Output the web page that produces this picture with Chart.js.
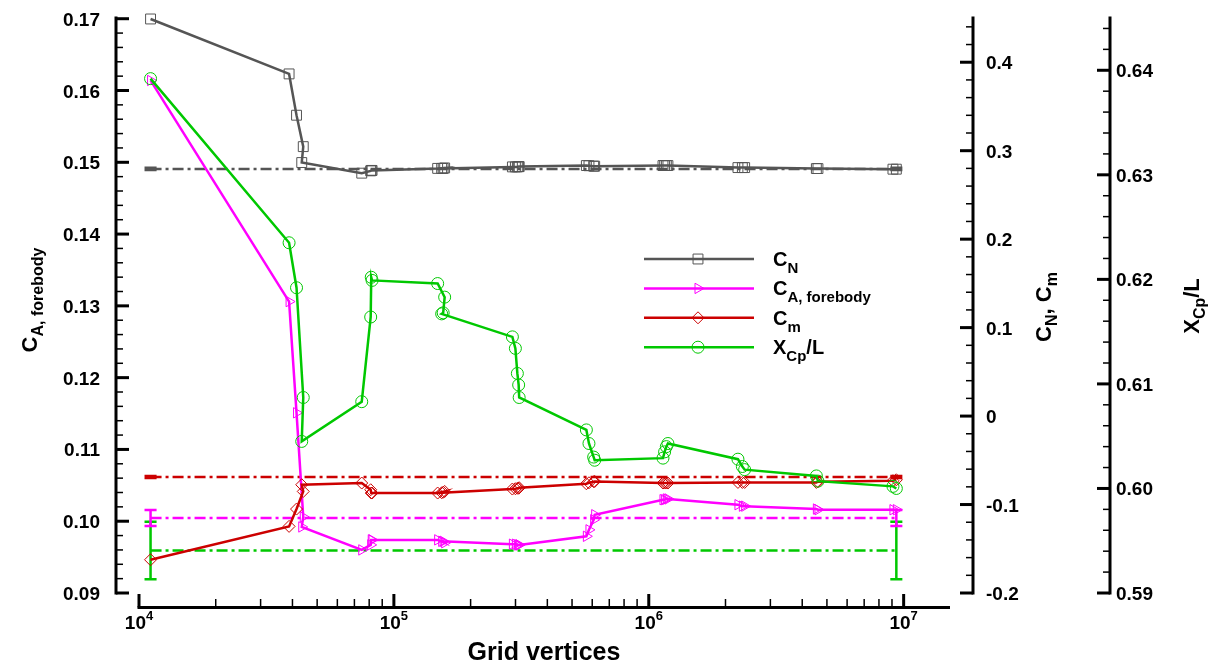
<!DOCTYPE html>
<html>
<head>
<meta charset="utf-8">
<script src="https://cdn.jsdelivr.net/npm/chart.js@4.4.1/dist/chart.umd.min.js"></script>
<style>
  html, body { margin: 0; padding: 0; background: #fff; }
  #wrap { width: 1222px; height: 669px; position: relative; }
</style>
</head>
<body>
<div id="wrap"><canvas id="chart"></canvas></div>
<script>
// grid size of every computed point (vertices), shared by the four curves
const gridVertices = [11100, 38800, 41500, 44100, 43500, 74800, 81100, 81500, 82100,
  148500, 158200, 156100, 154000, 291700, 299700, 305100, 308700, 310100,
  569100, 582600, 607900, 613500, 1137000, 1154000, 1172000, 1189000,
  2238000, 2329000, 2378000, 4545000, 4611000, 9078000, 9361000];

const cN = [0.4489, 0.3868, 0.3401, 0.3046, 0.2866, 0.2746, 0.2772, 0.2777, 0.2777,
  0.2800, 0.2805, 0.2800, 0.2800, 0.2817, 0.2817, 0.2817, 0.2820, 0.2820,
  0.2832, 0.2830, 0.2825, 0.2825, 0.2832, 0.2832, 0.2832, 0.2832,
  0.2809, 0.2809, 0.2809, 0.2798, 0.2798, 0.2791, 0.2791];

const cAForebody = [0.1614, 0.1306, 0.1151, 0.1006, 0.0992, 0.0960, 0.0967, 0.0974, 0.0974,
  0.0974, 0.0970, 0.0972, 0.0972, 0.0968, 0.0968, 0.0967, 0.0967, 0.0967,
  0.0979, 0.0988, 0.1002, 0.1009, 0.1030, 0.1030, 0.1031, 0.1031,
  0.1023, 0.1021, 0.1021, 0.1017, 0.1016, 0.1016, 0.1016];

const cM = [-0.1624, -0.1247, -0.1051, -0.0852, -0.0776, -0.0757, -0.0833, -0.0870, -0.0870,
  -0.0870, -0.0852, -0.0861, -0.0867, -0.0825, -0.0821, -0.0816, -0.0816, -0.0810,
  -0.0765, -0.0754, -0.0742, -0.0739, -0.0757, -0.0757, -0.0757, -0.0757,
  -0.0750, -0.0750, -0.0750, -0.0750, -0.0742, -0.0731, -0.0720];

const xCpL = [0.6392, 0.6235, 0.6192, 0.6087, 0.6045, 0.6083, 0.6164, 0.6202, 0.6199,
  0.6196, 0.6183, 0.6168, 0.6167, 0.6145, 0.6134, 0.6110, 0.6099, 0.6087,
  0.6056, 0.6043, 0.6030, 0.6027, 0.6029, 0.6035, 0.6040, 0.6043,
  0.6028, 0.6021, 0.6018, 0.6012, 0.6007, 0.6002, 0.6000];

// extrapolated (grid converged) values with their error band
const refX = [11100, 9361000];
const refCN = 0.2794, refCNErr = 0.0012;
const refCA = 0.10045, refCAErr = 0.0011;
const refCm = -0.0689, refCmErr = 0.0012;
const refXCp = 0.59407, refXCpErr = 0.00275;

// axis ticks
const xMajorTicks = [1e4, 1e5, 1e6, 1e7];
const xTickExponents = ['4', '5', '6', '7'];
const leftTicks = [0.09, 0.10, 0.11, 0.12, 0.13, 0.14, 0.15, 0.16, 0.17];
const leftTickLabels = ['0.09', '0.10', '0.11', '0.12', '0.13', '0.14', '0.15', '0.16', '0.17'];
const rightTicks = [-0.2, -0.1, 0, 0.1, 0.2, 0.3, 0.4];
const rightTickLabels = ['-0.2', '-0.1', '0', '0.1', '0.2', '0.3', '0.4'];
const xcpTicks = [0.59, 0.60, 0.61, 0.62, 0.63, 0.64];
const xcpTickLabels = ['0.59', '0.60', '0.61', '0.62', '0.63', '0.64'];

const FONT = '"Liberation Sans", Arial, Helvetica, sans-serif';
const GRAY = '#555555', MAGENTA = '#ff00ff', RED = '#cc0000', GREEN = '#00c800';
const capRatio = 1.056; // half width of error bar caps on the log axis

function pts(values) {
  return gridVertices.map((x, i) => ({ x, y: values[i] }));
}
function refLine(v) {
  return refX.map(x => ({ x, y: v }));
}
function errBars(center, half) {
  const out = [];
  refX.forEach(x => {
    const lo = center - half, hi = center + half;
    const xl = x / capRatio, xr = x * capRatio;
    out.push({ x: xl, y: hi }, { x: xr, y: hi }, { x: xr, y: null },
      { x, y: hi }, { x, y: lo }, { x, y: null },
      { x: xl, y: lo }, { x: xr, y: lo }, { x: xr, y: null });
  });
  return out;
}

function refSet(data, color, axis) {
  return { data, yAxisID: axis, borderColor: color, borderWidth: 2.5,
    borderDash: [11, 4, 3, 4], pointRadius: 0, order: 10, clip: false };
}
function barSet(data, color, axis) {
  return { data, yAxisID: axis, borderColor: color, borderWidth: 2.5,
    pointRadius: 0, spanGaps: false, order: 9, clip: false };
}
function curveSet(label, data, color, axis, style, radius, rot, order) {
  return { label, data, yAxisID: axis, borderColor: color, borderWidth: 2.5,
    pointStyle: style, pointRadius: radius, pointRotation: rot || 0,
    pointBorderWidth: 1, pointBorderColor: color, pointBackgroundColor: 'rgba(0,0,0,0)',
    order, clip: false };
}

const legendItems = [
  { color: GRAY, style: 'rect', radius: 7, rot: 0, text: [['C', 20, 0], ['N', 15, 7]] },
  { color: MAGENTA, style: 'triangle', radius: 6, rot: 90, text: [['C', 20, 0], ['A, forebody', 15, 7]] },
  { color: RED, style: 'rectRot', radius: 6, rot: 0, text: [['C', 20, 0], ['m', 15, 7]] },
  { color: GREEN, style: 'circle', radius: 6, rot: 0, text: [['X', 20, 0], ['Cp', 15, 7], ['/L', 20, 0]] }
];

function drawRich(ctx, x, y, parts, align) {
  let w = 0;
  parts.forEach(p => { ctx.font = `bold ${p[1]}px ${FONT}`; w += ctx.measureText(p[0]).width; });
  let cx = align === 'center' ? x - w / 2 : (align === 'right' ? x - w : x);
  parts.forEach(p => {
    ctx.font = `bold ${p[1]}px ${FONT}`;
    ctx.fillText(p[0], cx, y + (p[2] || 0));
    cx += ctx.measureText(p[0]).width;
  });
}

function drawYAxis(ctx, scale, ax, dir, ticks, labels, minorStep, labelX, align, top, bottom) {
  ctx.lineWidth = 3;
  ctx.beginPath();
  ctx.moveTo(ax, top - 1.5);
  ctx.lineTo(ax, bottom + 1.5);
  ctx.stroke();
  // minor ticks
  ctx.lineWidth = 1.5;
  const n = Math.round((scale.max - scale.min) / minorStep);
  for (let i = 0; i <= n; i++) {
    const v = scale.min + i * minorStep;
    const py = scale.getPixelForValue(v);
    if (py < top - 0.5) continue;
    ctx.beginPath();
    ctx.moveTo(ax, py);
    ctx.lineTo(ax + dir * 7, py);
    ctx.stroke();
  }
  ctx.lineWidth = 3;
  ticks.forEach((v, i) => {
    const py = scale.getPixelForValue(v);
    ctx.beginPath();
    ctx.moveTo(ax, py);
    ctx.lineTo(ax + dir * 13, py);
    ctx.stroke();
    ctx.font = `bold 19px ${FONT}`;
    ctx.textAlign = align;
    ctx.fillText(labels[i], labelX, py + 7);
  });
  ctx.textAlign = 'left';
}

const tecplotAxes = {
  id: 'tecplotAxes',
  afterDraw(chart) {
    const ctx = chart.ctx;
    const { x, yL, yR1, yR2 } = chart.scales;
    const area = chart.chartArea;
    ctx.save();
    ctx.strokeStyle = '#000';
    ctx.fillStyle = '#000';
    ctx.textBaseline = 'alphabetic';

    drawYAxis(ctx, yL, 116, 1, leftTicks, leftTickLabels, 0.002, 100, 'right', area.top, area.bottom);
    drawYAxis(ctx, yR1, 973, -1, rightTicks, rightTickLabels, 0.02, 986, 'left', area.top, area.bottom);
    drawYAxis(ctx, yR2, 1110, -1, xcpTicks, xcpTickLabels, 0.002, 1116, 'left', area.top, area.bottom);

    // x axis, sits below the y range
    const xy = area.bottom + 14.5;
    const x0 = x.getPixelForValue(xMajorTicks[0]);
    ctx.lineWidth = 3;
    ctx.beginPath();
    ctx.moveTo(x0 - 1.5, xy);
    ctx.lineTo(area.right, xy);
    ctx.stroke();
    ctx.lineWidth = 1.5;
    xMajorTicks.forEach(d => {
      for (let m = 2; m <= 9; m++) {
        const v = d * m;
        if (v > x.max) break;
        const px = x.getPixelForValue(v);
        ctx.beginPath();
        ctx.moveTo(px, xy);
        ctx.lineTo(px, xy - 8.5);
        ctx.stroke();
      }
    });
    ctx.lineWidth = 3;
    xMajorTicks.forEach((v, i) => {
      const px = x.getPixelForValue(v);
      ctx.beginPath();
      ctx.moveTo(px, xy);
      ctx.lineTo(px, xy - 13.5);
      ctx.stroke();
      drawRich(ctx, px, 628.5, [['10', 19, 0], [xTickExponents[i], 13, -9]], 'center');
    });

    // axis titles
    drawRich(ctx, 544, 660, [['Grid vertices', 25, 0]], 'center');

    ctx.save();
    ctx.translate(37, 300);
    ctx.rotate(-Math.PI / 2);
    drawRich(ctx, 0, 0, [['C', 22, 0], ['A, forebody', 16, 6]], 'center');
    ctx.restore();

    ctx.save();
    ctx.translate(1051, 307);
    ctx.rotate(-Math.PI / 2);
    drawRich(ctx, 0, 0, [['C', 22, 0], ['N', 16, 6], [', C', 22, 0], ['m', 16, 6]], 'center');
    ctx.restore();

    ctx.save();
    ctx.translate(1199, 306);
    ctx.rotate(-Math.PI / 2);
    drawRich(ctx, 0, 0, [['X', 22, 0], ['Cp', 16, 6], ['/L', 22, 0]], 'center');
    ctx.restore();

    // legend
    legendItems.forEach((it, i) => {
      const ly = 259 + i * 29.4;
      ctx.strokeStyle = it.color;
      ctx.lineWidth = 2.5;
      ctx.setLineDash([]);
      ctx.beginPath();
      ctx.moveTo(644, ly);
      ctx.lineTo(754, ly);
      ctx.stroke();
      ctx.lineWidth = 1;
      ctx.fillStyle = 'rgba(0,0,0,0)';
      Chart.helpers.drawPoint(ctx, { pointStyle: it.style, rotation: it.rot, radius: it.radius, borderWidth: 1 }, 698, ly);
      ctx.fillStyle = '#000';
      drawRich(ctx, 773, ly + 7, it.text, 'left');
    });
    ctx.restore();
  }
};

new Chart(document.getElementById('chart'), {
  type: 'line',
  data: {
    datasets: [
      refSet(refLine(refCN), GRAY, 'yR1'),
      refSet(refLine(refCA), MAGENTA, 'yL'),
      refSet(refLine(refCm), RED, 'yR1'),
      refSet(refLine(refXCp), GREEN, 'yR2'),
      barSet(errBars(refCN, refCNErr), GRAY, 'yR1'),
      barSet(errBars(refCA, refCAErr), MAGENTA, 'yL'),
      barSet(errBars(refCm, refCmErr), RED, 'yR1'),
      barSet(errBars(refXCp, refXCpErr), GREEN, 'yR2'),
      curveSet('CN', pts(cN), GRAY, 'yR1', 'rect', 7, 0, 4),
      curveSet('CA, forebody', pts(cAForebody), MAGENTA, 'yL', 'triangle', 6, 90, 3),
      curveSet('Cm', pts(cM), RED, 'yR1', 'rectRot', 6, 0, 2),
      curveSet('XCp/L', pts(xCpL), GREEN, 'yR2', 'circle', 6, 0, 1)
    ]
  },
  options: {
    responsive: true,
    maintainAspectRatio: false,
    animation: false,
    devicePixelRatio: 1,
    layout: { padding: { left: 139, right: 272, top: 18, bottom: 76 } },
    elements: { line: { tension: 0 } },
    plugins: { legend: { display: false }, tooltip: { enabled: false } },
    scales: {
      x: { type: 'logarithmic', min: 1e4, max: 1.52e7, display: false },
      yL: { type: 'linear', position: 'left', min: 0.09, max: 0.1701, display: false },
      yR1: { type: 'linear', position: 'right', min: -0.2, max: 0.45, display: false },
      yR2: { type: 'linear', position: 'right', min: 0.59, max: 0.645, display: false }
    }
  },
  plugins: [tecplotAxes]
});
</script>
</body>
</html>
